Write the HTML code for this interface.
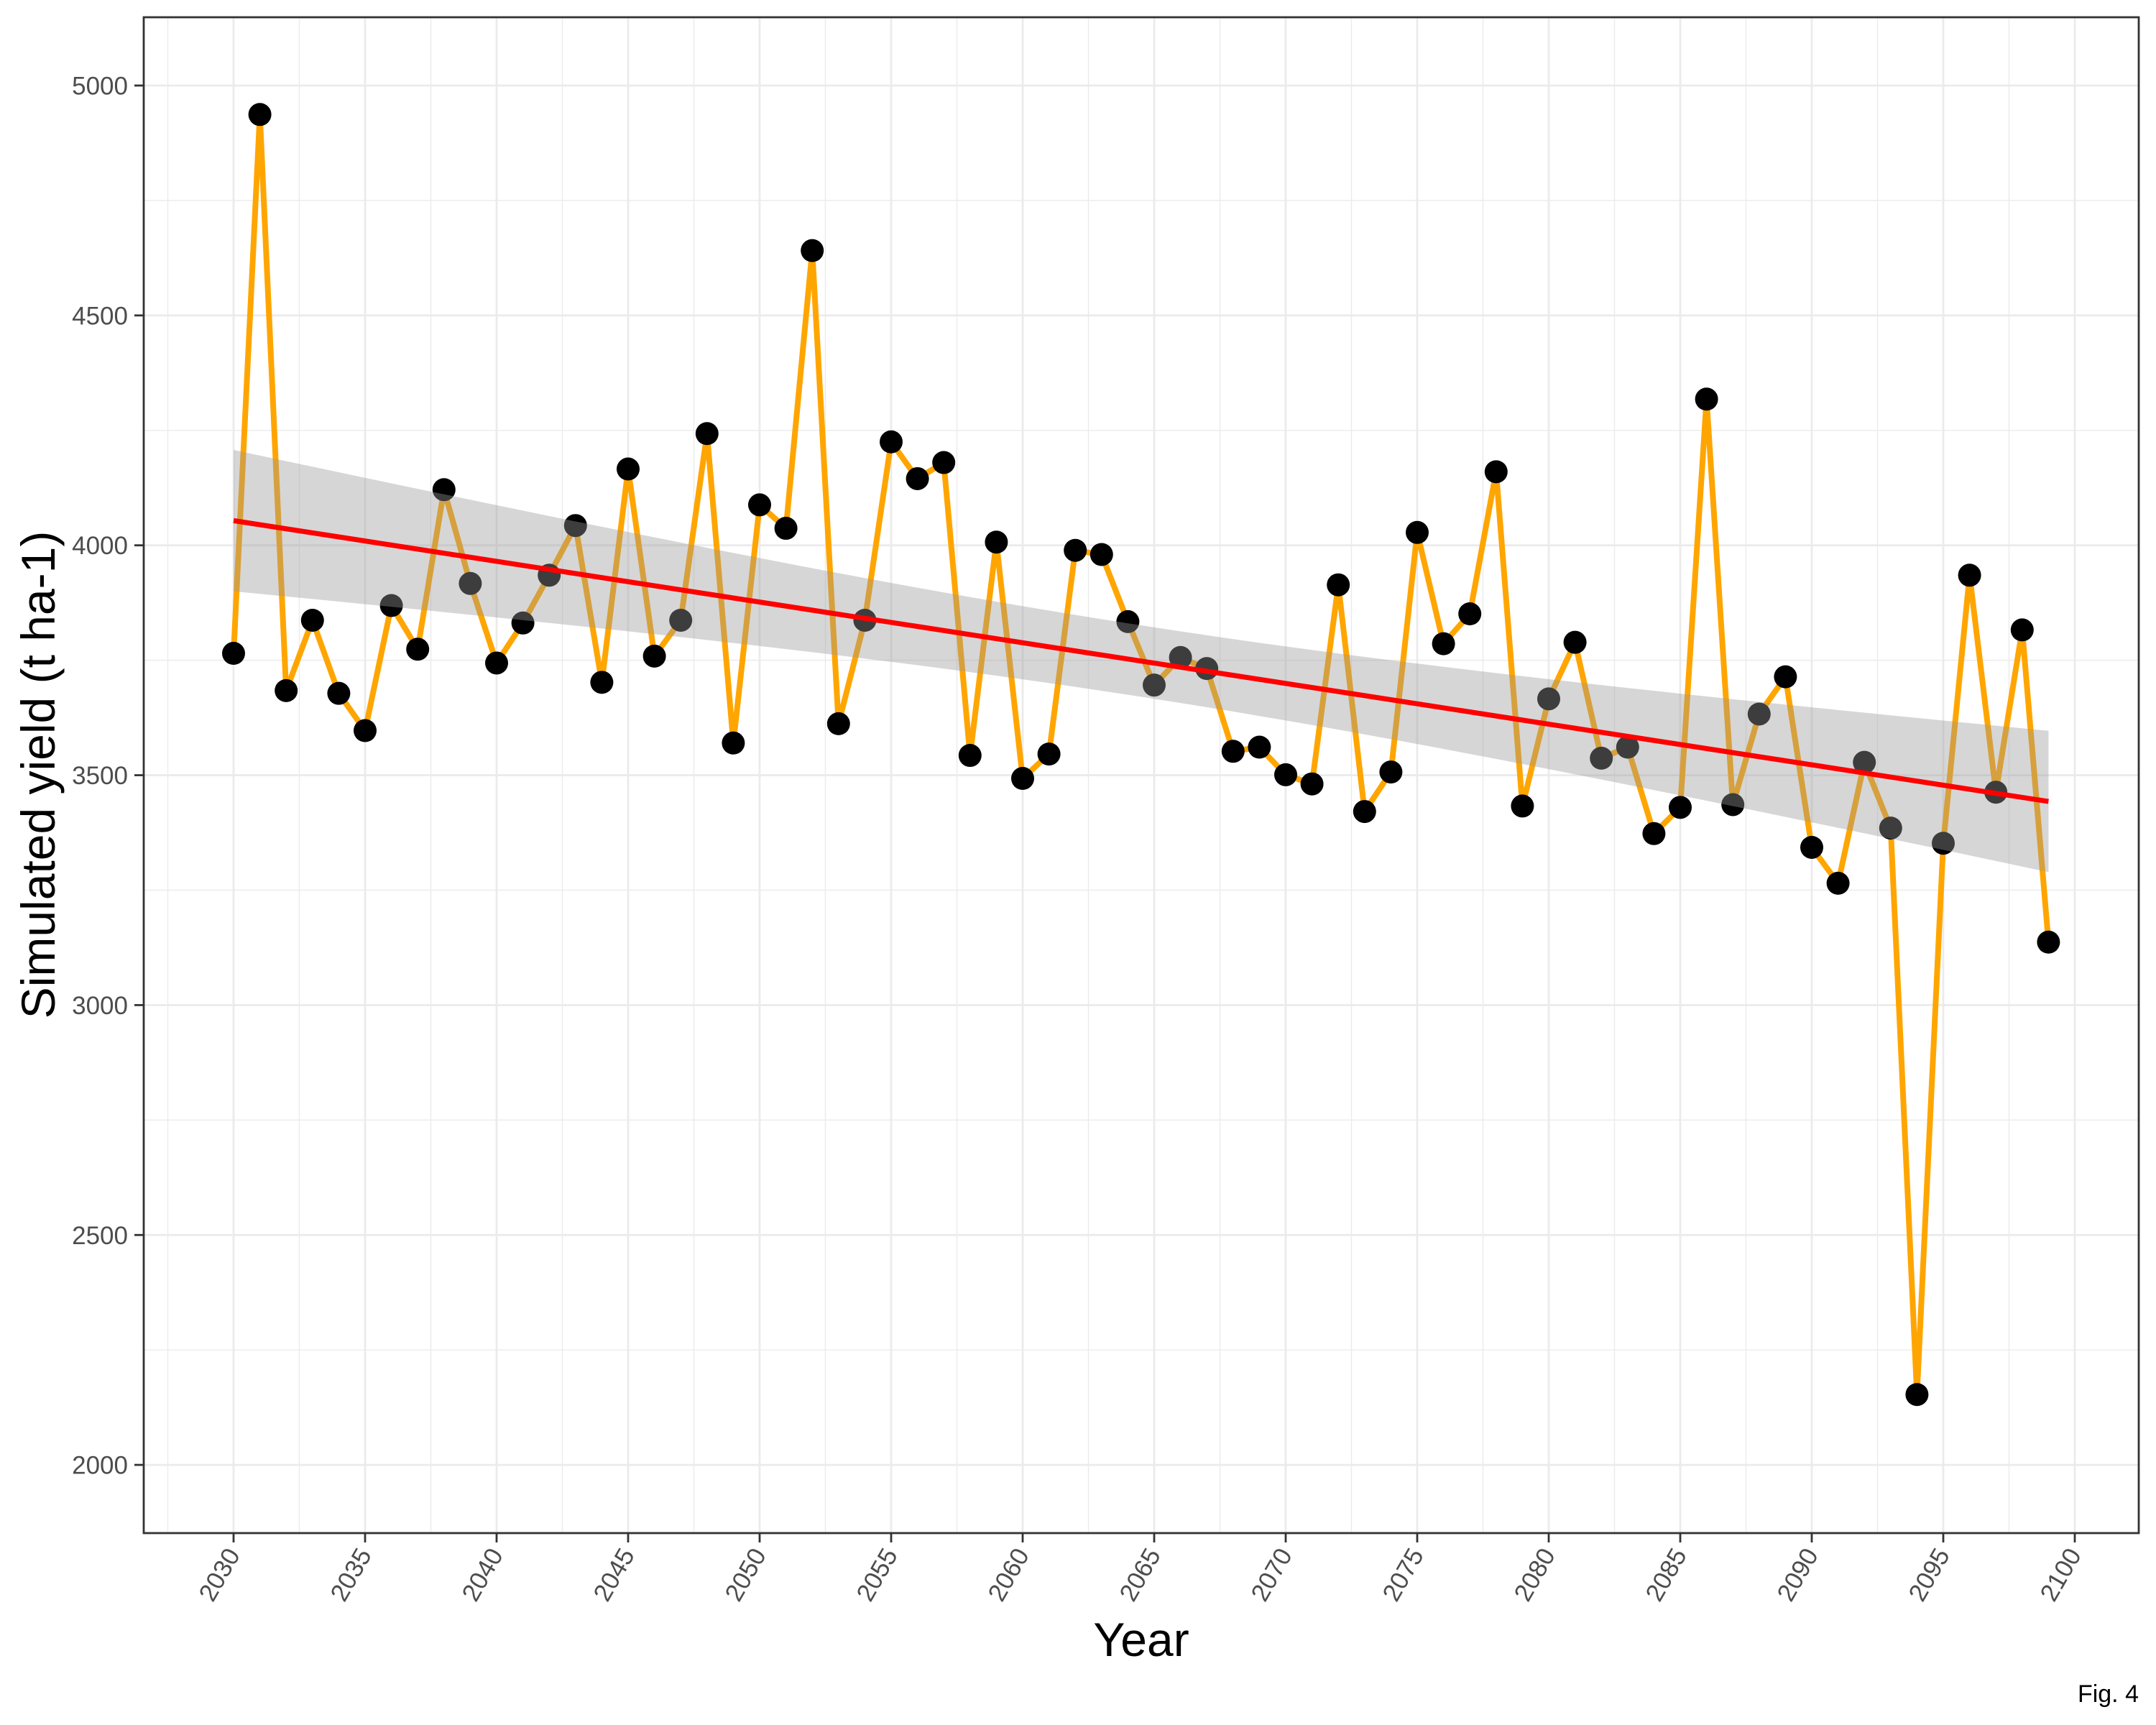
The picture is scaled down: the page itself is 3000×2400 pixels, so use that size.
<!DOCTYPE html>
<html><head><meta charset="utf-8"><style>
html,body{margin:0;padding:0;background:#fff;}
svg{display:block;font-family:"Liberation Sans",Arial,sans-serif;}
</style></head><body>
<svg id="chart" width="3000" height="2400" viewBox="0 0 3000 2400" xmlns="http://www.w3.org/2000/svg">
<rect x="0" y="0" width="3000" height="2400" fill="#fff"/>
<g id="grid"></g>
<g id="series"></g>
<g id="axes"></g>
<text x="1588" y="2304" font-size="66" text-anchor="middle" fill="#000">Year</text>
<text transform="translate(76,1078) rotate(-90)" font-size="66" text-anchor="middle" fill="#000">Simulated yield (t ha-1)</text>
<text x="2976" y="2368" font-size="34" text-anchor="end" fill="#000">Fig. 4</text>
</svg>
<script>
const years = [];
for (let y = 2030; y <= 2099; y++) years.push(y);
const yields = [3765,4937,3684,3837,3678,3597,3869,3774,4121,3917,
3744,3831,3935,4043,3702,4166,3759,3837,4243,3570,
4088,4037,4641,3612,3837,4225,4145,4180,3543,4007,
3493,3546,3989,3980,3834,3696,3756,3732,3552,3561,
3501,3481,3914,3421,3507,4028,3786,3851,4160,3433,
3666,3789,3537,3561,3373,3430,4318,3436,3633,3714,
3343,3265,3528,3385,2153,3352,3935,3463,3816,3137];
const xTicks = [2030,2035,2040,2045,2050,2055,2060,2065,2070,2075,2080,2085,2090,2095,2100];
const yTicks = [2000,2500,3000,3500,4000,4500,5000];

const NS = "http://www.w3.org/2000/svg";
const L = 200, R = 2976, T = 24, B = 2133;
const sx = v => 325 + (v - 2030) * 36.6;
const sy = v => 119 + (5000 - v) * 0.6397;
function mk(tag, attrs, parent) {
  const e = document.createElementNS(NS, tag);
  for (const k in attrs) e.setAttribute(k, attrs[k]);
  parent.appendChild(e);
  return e;
}
const grid = document.getElementById('grid');
const series = document.getElementById('series');
const axes = document.getElementById('axes');

for (let i = 0; i < xTicks.length + 1; i++) {
  const v = 2027.5 + i * 5;
  const x = sx(v);
  if (x > L && x < R) {
    const g = mk('line', {x1: x, x2: x, y1: T, y2: B, stroke: '#ebebeb', 'stroke-width': 1.4}, grid);
    
    
  }
}
for (let i = 0; i < yTicks.length + 1; i++) {
  const v = 1750 + i * 500;
  const y = sy(v);
  if (y > T && y < B) {
    const g = mk('line', {x1: L, x2: R, y1: y, y2: y, stroke: '#ebebeb', 'stroke-width': 1.4}, grid);
    
    
  }
}
xTicks.forEach(v => {
  const x = sx(v);
  const g = mk('line', {x1: x, x2: x, y1: T, y2: B, stroke: '#ebebeb', 'stroke-width': 2.8}, grid);
  
  
  const t = mk('line', {x1: x, x2: x, y1: B, y2: B + 13, stroke: '#333', 'stroke-width': 2.8}, axes);
  
  
  const lb = mk('text', {transform: `translate(${x + 10},${B + 30}) rotate(-60)`, 'font-size': 35, 'text-anchor': 'end', fill: '#4d4d4d'}, axes);
  
  
  lb.textContent = v;
});
yTicks.forEach(v => {
  const y = sy(v);
  const g = mk('line', {x1: L, x2: R, y1: y, y2: y, stroke: '#ebebeb', 'stroke-width': 2.8}, grid);
  
  
  const t = mk('line', {x1: L - 13, x2: L, y1: y, y2: y, stroke: '#333', 'stroke-width': 2.8}, axes);
  
  
  const lb = mk('text', {x: L - 22, y: y + 12.5, 'font-size': 35, 'text-anchor': 'end', fill: '#4d4d4d'}, axes);
  
  
  lb.textContent = v;
});
const border = mk('rect', {x: L, y: T, width: R - L, height: B - T, fill: 'none', stroke: '#333', 'stroke-width': 2.8}, axes);



const pl = mk('polyline', {points: years.map((y, i) => sx(y) + ',' + sy(yields[i])).join(' '), fill: 'none', stroke: '#ffa500', 'stroke-width': 8, 'stroke-linejoin': 'round'}, series);


years.forEach((y, i) => {
  const c = mk('circle', {cx: sx(y), cy: sy(yields[i]), r: 16, fill: '#000'}, series);
  
  
});
const n = years.length;
const xm = years.reduce((a, b) => a + b, 0) / n;
const ym = yields.reduce((a, b) => a + b, 0) / n;
let sxx = 0, sxy = 0;
years.forEach((x, i) => { sxx += (x - xm) ** 2; sxy += (x - xm) * (yields[i] - ym); });
const slope = sxy / sxx, icpt = ym - slope * xm;
let sse = 0;
years.forEach((x, i) => { sse += (yields[i] - (icpt + slope * x)) ** 2; });
const s = Math.sqrt(sse / (n - 2));
const tval = 1.995;
const up = [], lo = [];
for (let k = 0; k <= 80; k++) {
  const x = years[0] + (years[n - 1] - years[0]) * k / 80;
  const f = icpt + slope * x;
  const h = tval * s * Math.sqrt(1 / n + (x - xm) ** 2 / sxx);
  up.push(sx(x) + ',' + sy(f + h));
  lo.unshift(sx(x) + ',' + sy(f - h));
}
const band = mk('polygon', {points: up.concat(lo).join(' '), fill: '#999999', 'fill-opacity': 0.4}, series);


const x0 = years[0], x1 = years[n - 1];
const fit = mk('line', {x1: sx(x0), y1: sy(icpt + slope * x0), x2: sx(x1), y2: sy(icpt + slope * x1), stroke: '#ff0000', 'stroke-width': 7}, series);


</script>
</body></html>
